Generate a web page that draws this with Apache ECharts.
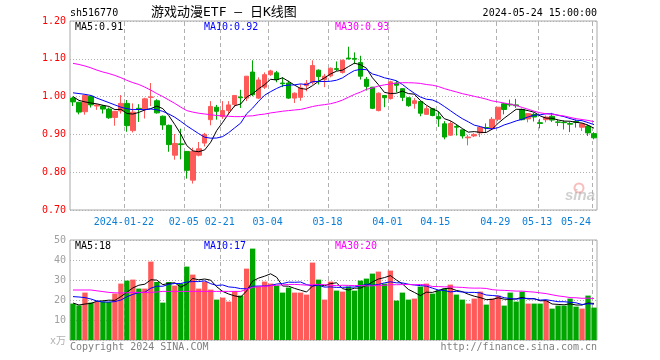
<!DOCTYPE html>
<html><head><meta charset="utf-8">
<script src="https://cdn.jsdelivr.net/npm/echarts@6/dist/echarts.min.js"></script>
<style>html,body{margin:0;padding:0;background:#fff}#c{width:660px;height:360px}</style>
</head><body><div id="c"></div>
<script>
// ---------- data ----------
const dates = [
 '2024-01-09','2024-01-10','2024-01-11','2024-01-12',
 '2024-01-15','2024-01-16','2024-01-17','2024-01-18','2024-01-19',
 '2024-01-22','2024-01-23','2024-01-24','2024-01-25','2024-01-26',
 '2024-01-29','2024-01-30','2024-01-31','2024-02-01','2024-02-02',
 '2024-02-05','2024-02-06','2024-02-07','2024-02-08',
 '2024-02-19','2024-02-20','2024-02-21','2024-02-22','2024-02-23',
 '2024-02-26','2024-02-27','2024-02-28','2024-02-29','2024-03-01',
 '2024-03-04','2024-03-05','2024-03-06','2024-03-07','2024-03-08',
 '2024-03-11','2024-03-12','2024-03-13','2024-03-14','2024-03-15',
 '2024-03-18','2024-03-19','2024-03-20','2024-03-21','2024-03-22',
 '2024-03-25','2024-03-26','2024-03-27','2024-03-28','2024-03-29',
 '2024-04-01','2024-04-02','2024-04-03',
 '2024-04-08','2024-04-09','2024-04-10','2024-04-11','2024-04-12',
 '2024-04-15','2024-04-16','2024-04-17','2024-04-18','2024-04-19',
 '2024-04-22','2024-04-23','2024-04-24','2024-04-25','2024-04-26',
 '2024-04-29','2024-04-30',
 '2024-05-06','2024-05-07','2024-05-08','2024-05-09','2024-05-10',
 '2024-05-13','2024-05-14','2024-05-15','2024-05-16','2024-05-17',
 '2024-05-20','2024-05-21','2024-05-22','2024-05-23','2024-05-24'
];
const opens = [
 0.996,0.985,0.960,1.001,0.975,0.975,0.967,0.945,0.962,0.982,
 0.910,0.969,0.967,0.998,0.989,0.948,0.924,0.845,0.875,0.855,
 0.779,0.845,0.877,0.939,0.972,0.947,0.963,0.979,0.999,0.996,
 1.065,0.996,1.025,1.058,1.063,1.036,1.036,0.996,0.998,1.029,
 1.038,1.070,1.045,1.055,1.074,1.064,1.102,1.101,1.090,1.046,
 1.025,0.963,1.003,0.995,1.036,1.021,0.997,0.982,0.987,0.953,
 0.968,0.947,0.928,0.898,0.921,0.912,0.891,0.896,0.904,0.918,
 0.915,0.940,0.981,0.980,0.978,0.966,0.941,0.953,0.931,0.939,
 0.948,0.933,0.932,0.929,0.934,0.919,0.922,0.902
];
const closes = [
 0.986,0.959,1.003,0.978,0.978,0.967,0.944,0.961,0.982,0.923,
 0.959,0.966,0.994,0.999,0.957,0.925,0.873,0.876,0.873,0.805,
 0.855,0.862,0.900,0.974,0.961,0.963,0.978,1.003,0.997,1.054,
 1.005,1.044,1.058,1.068,1.045,1.034,0.996,1.009,1.023,1.035,
 1.082,1.053,1.054,1.075,1.072,1.096,1.100,1.099,1.054,1.027,
 0.969,1.009,0.997,1.039,1.030,0.998,0.976,0.989,0.956,0.968,
 0.950,0.941,0.893,0.929,0.919,0.896,0.893,0.900,0.919,0.917,
 0.940,0.972,0.966,0.978,0.976,0.939,0.955,0.946,0.929,0.946,
 0.938,0.932,0.931,0.927,0.932,0.928,0.904,0.891
];
const lows = [
 0.975,0.953,0.952,0.971,0.965,0.955,0.941,0.923,0.955,0.907,
 0.905,0.933,0.942,0.975,0.955,0.912,0.854,0.833,0.834,0.783,
 0.770,0.842,0.868,0.924,0.939,0.941,0.953,0.972,0.970,0.988,
 1.001,0.994,1.020,1.055,1.038,1.025,0.994,0.983,0.989,1.014,
 1.032,1.032,1.025,1.051,1.068,1.061,1.098,1.086,1.045,1.016,
 0.967,0.961,0.972,0.992,1.011,0.988,0.973,0.968,0.948,0.953,
 0.948,0.920,0.887,0.896,0.897,0.889,0.871,0.893,0.893,0.904,
 0.913,0.935,0.953,0.973,0.970,0.937,0.932,0.934,0.916,0.932,
 0.933,0.922,0.913,0.906,0.918,0.909,0.896,0.887
];
const highs = [
 1.000,0.986,1.004,1.003,0.980,0.978,0.971,0.962,1.004,0.991,
 0.982,0.980,0.997,1.036,0.993,0.950,0.926,0.901,0.915,0.856,
 0.865,0.880,0.904,0.988,0.978,0.988,0.988,1.003,1.018,1.054,
 1.096,1.051,1.064,1.071,1.068,1.051,1.042,1.011,1.033,1.044,
 1.096,1.072,1.060,1.077,1.093,1.098,1.132,1.117,1.108,1.052,
 1.025,1.011,1.003,1.042,1.042,1.021,0.997,0.996,0.987,0.975,
 0.970,0.961,0.935,0.935,0.926,0.912,0.899,0.903,0.922,0.929,
 0.946,0.972,0.983,0.992,0.994,0.968,0.955,0.957,0.941,0.950,
 0.957,0.939,0.937,0.933,0.939,0.928,0.926,0.906
];
// volume, unit: 万
const volumes = [
 18.2,17.3,23.7,18.7,19.0,19.2,19.0,23.2,28.2,29.7,
 30.2,25.7,25.7,39.2,29.0,18.7,29.0,27.2,28.2,36.7,
 32.7,25.7,29.2,25.2,20.2,21.2,19.2,24.5,22.2,35.7,
 45.7,26.7,29.2,28.2,27.2,23.7,26.2,23.7,23.7,22.7,
 38.7,30.2,20.2,29.2,24.7,24.2,26.7,24.7,29.7,30.7,
 33.2,34.2,28.2,34.7,19.7,23.7,20.2,20.7,26.7,28.2,
 23.2,24.7,25.7,27.7,22.7,20.2,18.2,20.7,24.2,17.7,
 20.7,22.2,17.2,23.7,19.2,24.2,18.2,18.2,18.2,19.7,
 15.7,17.2,17.2,20.7,16.7,15.7,22.2,16.2
];
// moving-average values for the first days (their inputs lie before the window)
const ma5Head  = [1.000,0.990,0.986,0.983];
const ma10Head = [1.010,1.008,1.006,1.003,0.996,0.990,0.984,0.978,0.972];
const ma30Head = [1.088,1.085,1.081,1.076,1.070,1.065,1.061,1.056,1.050,1.043,
                  1.037,1.032,1.025,1.017,1.008,1.000,0.991,0.982,0.972,0.963,
                  0.959,0.956,0.954,0.952,0.950,0.949,0.948,0.947,0.947];
const volMa5Head  = [18.5,17.5,18.0,18.3];
const volMa10Head = [21.7,21.5,21.2,20.5,19.5,19.0,19.0,19.2,20.0];
const volMa30Head = [25.0,25.0,25.0,25.0,24.6,24.2,23.8,23.6,23.5,23.6,
                     23.8,23.8,23.8,23.8,24.0,24.3,24.3,24.3,24.3,24.3,
                     24.3,24.3,24.3,24.3,24.3,24.3,24.3,24.3,24.3];
const markedDates = ['2024-01-22','2024-02-05','2024-02-21','2024-03-04','2024-03-18',
                     '2024-04-01','2024-04-15','2024-04-29','2024-05-13','2024-05-24'];
const priceMin = 0.7, priceMax = 1.2, priceStep = 0.1;
const volMin = 0, volMax = 50, volStep = 10;
const priceMaLabels = ['MA5:0.91','MA10:0.92','MA30:0.93'];
const volMaLabels = ['MA5:18','MA10:17','MA30:20'];
const stockCode = 'sh516770';
const titleText = '游戏动漫ETF — 日K线图';
const stampText = '2024-05-24 15:00:00';

// ---------- helpers ----------
function movingAvg(values, n, head) {
  return values.map((v, i) => {
    if (i < head.length) return head[i];
    let s = 0; for (let k = i - n + 1; k <= i; k++) s += values[k];
    return +(s / n).toFixed(4);
  });
}
const UP = '#ff5a5a', DOWN = '#00a600';
const markedIdx = markedDates.map(d => dates.indexOf(d));
const markedSet = new Set(markedIdx);
const isMarked = (i) => markedSet.has(+i);
const lastIdx = dates.length - 1;
const kData = dates.map((d, i) => [opens[i], closes[i], lows[i], highs[i]]);
const volData = volumes.map((v, i) => ({value: v, itemStyle: {color: closes[i] >= opens[i] ? UP : DOWN}}));
const catData = dates.map((d, i) => i === lastIdx ? {value: d, textStyle: {align: 'right', padding: [0, 3, 0, 0]}} : d);

const MONO = "'DejaVu Sans Mono', 'Noto Sans CJK SC', monospace";
const GRID_C = '#a8a8a8';
const dotted = () => ({show: true, lineStyle: {color: '#b0b0b0', type: [1, 2], width: 1}});

// panel layout
const PLOT_LEFT = 70, PLOT_WIDTH = 527;
const PANELS = [{top: 21, height: 189}, {top: 240, height: 100}];

// dashed date separators on the day-band boundaries of the marked days (grid decoration)
function separatorDashes() {
  const band = PLOT_WIDTH / dates.length;
  const out = [];
  markedIdx.forEach(i => {
    const x = Math.round(PLOT_LEFT + i * band + 0.5);
    PANELS.forEach(p => {
      for (let y = p.top + 1; y < p.top + p.height; y += 7) {
        out.push({type: 'rect', silent: true,
          shape: {x: x, y: y, width: 1, height: Math.min(4, p.top + p.height - y)},
          style: {fill: '#b0b0b0', stroke: 'none'}});
      }
    });
  });
  return out;
}

const chart = echarts.init(document.getElementById('c'), null, {renderer: 'canvas'});
function lineSeries(data, color, xi, yi) {
  return {type: 'line', data, xAxisIndex: xi, yAxisIndex: yi, showSymbol: false, symbol: 'none',
    lineStyle: {color, width: 1}, itemStyle: {color}, silent: true, z: 5, animation: false};
}
function txt(x, y, text, fill, extra) {
  return {type: 'text', x, y, silent: true, style: Object.assign({text, fill, font: '10px ' + MONO, textVerticalAlign: 'middle'}, extra || {})};
}
const graphics = [
  txt(70, 13, stockCode, '#000'),
  {type: 'text', x: 151, y: 13, silent: true, style: {text: titleText, fill: '#000', font: '13px ' + MONO, textVerticalAlign: 'middle'}},
  txt(597, 13, stampText, '#000', {textAlign: 'right'}),
  txt(75, 27, priceMaLabels[0], '#000'),
  txt(204, 27, priceMaLabels[1], '#0000ff'),
  txt(335, 27, priceMaLabels[2], '#ff00ff'),
  txt(75, 246, volMaLabels[0], '#000'),
  txt(204, 246, volMaLabels[1], '#0000ff'),
  txt(335, 246, volMaLabels[2], '#ff00ff'),
  txt(66, 341, 'x万', '#b0b0b0', {textAlign: 'right'}),
  txt(70, 347, 'Copyright 2024 SINA.COM', '#808080'),
  txt(597, 347, 'http://finance.sina.com.cn', '#808080', {textAlign: 'right'}),
  {type: 'circle', shape: {cx: 579, cy: 188, r: 4.5}, silent: true, style: {fill: 'none', stroke: 'rgba(240,110,110,0.45)', lineWidth: 2}},
  {type: 'text', x: 565, y: 196, silent: true, style: {text: 'sina', fill: 'rgba(150,150,150,0.45)', font: 'italic bold 15px Arial, sans-serif', textVerticalAlign: 'middle'}}
].concat(separatorDashes());
const option = {
  animation: false,
  backgroundColor: '#fff',
  grid: PANELS.map(p => ({left: PLOT_LEFT, top: p.top, width: PLOT_WIDTH, height: p.height,
    show: true, borderColor: GRID_C, borderWidth: 1})),
  xAxis: [
    {type: 'category', gridIndex: 0, data: catData, boundaryGap: true,
     axisLine: {show: false}, axisTick: {show: false}, splitLine: {show: false},
     axisLabel: {show: true, interval: isMarked, color: '#0a7fd8', fontSize: 10, fontFamily: MONO, margin: 7,
       padding: [0, 6, 0, 0], formatter: (v) => v === markedDates[0] ? v : v.slice(5)}},
    {type: 'category', gridIndex: 1, data: dates, boundaryGap: true,
     axisLine: {show: false}, axisTick: {show: false}, axisLabel: {show: false}, splitLine: {show: false}}
  ],
  yAxis: [
    {type: 'value', gridIndex: 0, min: priceMin, max: priceMax, interval: priceStep,
     axisLine: {show: false}, axisTick: {show: false}, splitLine: dotted(),
     axisLabel: {color: '#ff0000', fontSize: 10, fontFamily: MONO, margin: 4, formatter: (v) => v.toFixed(2)}},
    {type: 'value', gridIndex: 1, min: volMin, max: volMax, interval: volStep,
     axisLine: {show: false}, axisTick: {show: false}, splitLine: dotted(),
     axisLabel: {color: '#a0a0a0', fontSize: 10, fontFamily: MONO, margin: 4, formatter: (v) => v === 0 ? '' : String(v)}}
  ],
  series: [
    {type: 'candlestick', xAxisIndex: 0, yAxisIndex: 0, data: kData, barWidth: 5,
     itemStyle: {color: UP, color0: DOWN, borderColor: UP, borderColor0: DOWN, borderWidth: 1}, z: 3, silent: true},
    lineSeries(movingAvg(closes, 5, ma5Head), '#000000', 0, 0),
    lineSeries(movingAvg(closes, 10, ma10Head), '#0000ff', 0, 0),
    lineSeries(movingAvg(closes, 30, ma30Head), '#ff00ff', 0, 0),
    {type: 'bar', xAxisIndex: 1, yAxisIndex: 1, data: volData, barCategoryGap: '11%', z: 3, silent: true},
    lineSeries(movingAvg(volumes, 5, volMa5Head), '#000000', 1, 1),
    lineSeries(movingAvg(volumes, 10, volMa10Head), '#0000ff', 1, 1),
    lineSeries(movingAvg(volumes, 30, volMa30Head), '#ff00ff', 1, 1)
  ],
  graphic: graphics
};
chart.setOption(option);
</script>
</body></html>
